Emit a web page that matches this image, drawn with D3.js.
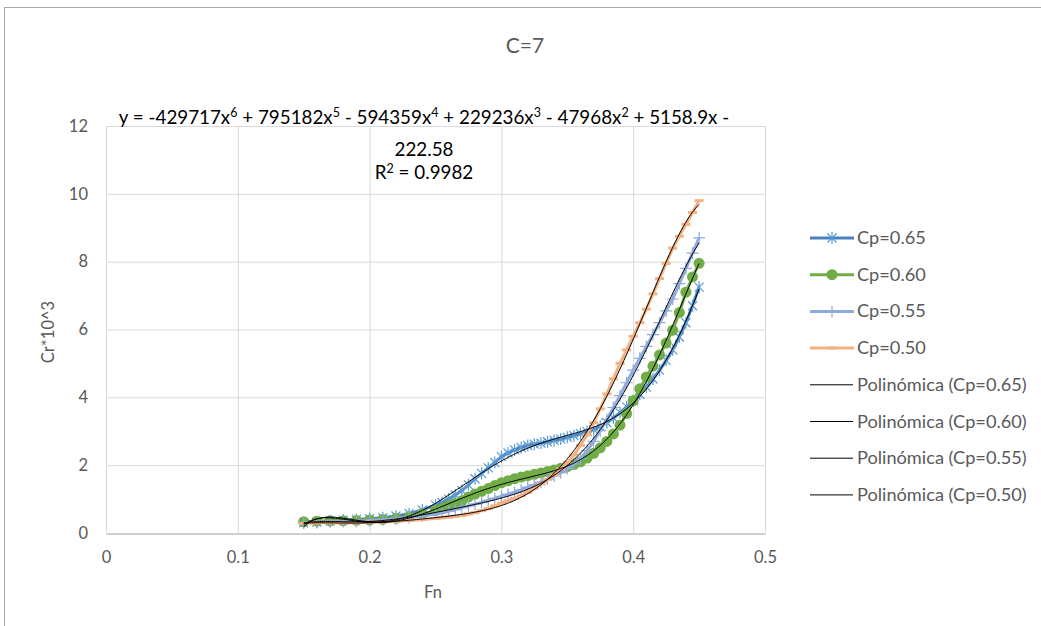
<!DOCTYPE html>
<html>
<head>
<meta charset="utf-8">
<script src="https://cdn.jsdelivr.net/npm/d3@7"></script>
<style>
  body { margin: 0; background: #fff; }
  text { font-family: Lato, "Open Sans", sans-serif; fill: #595959; }
</style>
</head>
<body>
<div id="chart"></div>
<script>
const fn = [0.15, 0.16, 0.17, 0.18, 0.19, 0.20, 0.21, 0.22, 0.23, 0.24, 0.25,
  0.255, 0.26, 0.265, 0.27, 0.275, 0.28, 0.285, 0.29, 0.295, 0.30,
  0.305, 0.31, 0.315, 0.32, 0.325, 0.33, 0.335, 0.34, 0.345, 0.35,
  0.355, 0.36, 0.365, 0.37, 0.375, 0.38, 0.385, 0.39, 0.395, 0.40,
  0.405, 0.41, 0.415, 0.42, 0.425, 0.43, 0.435, 0.44, 0.445, 0.45];

const cp065 = [0.30, 0.32, 0.35, 0.38, 0.40, 0.42, 0.45, 0.50, 0.57, 0.68, 0.82,
  0.90, 1.00, 1.12, 1.25, 1.42, 1.60, 1.76, 1.92, 2.08, 2.25,
  2.36, 2.45, 2.52, 2.58, 2.62, 2.65, 2.69, 2.73, 2.77, 2.82,
  2.87, 2.93, 2.99, 3.05, 3.14, 3.25, 3.39, 3.55, 3.72, 3.90,
  4.09, 4.30, 4.54, 4.80, 5.09, 5.40, 5.78, 6.20, 6.70, 7.25];

const cp060 = [0.33, 0.35, 0.36, 0.36, 0.37, 0.38, 0.40, 0.43, 0.48, 0.56, 0.66,
  0.72, 0.80, 0.87, 0.95, 1.06, 1.15, 1.23, 1.31, 1.40, 1.48,
  1.54, 1.60, 1.65, 1.69, 1.73, 1.77, 1.81, 1.86, 1.91, 1.96,
  2.02, 2.10, 2.21, 2.35, 2.51, 2.70, 2.92, 3.18, 3.52, 3.90,
  4.25, 4.60, 4.92, 5.25, 5.60, 5.98, 6.50, 7.10, 7.55, 7.95];

const cp055 = [0.30, 0.32, 0.33, 0.34, 0.35, 0.37, 0.39, 0.42, 0.46, 0.50, 0.56,
  0.60, 0.64, 0.69, 0.75, 0.80, 0.85, 0.90, 0.96, 1.02, 1.08,
  1.14, 1.20, 1.27, 1.35, 1.42, 1.50, 1.59, 1.68, 1.78, 1.90,
  2.04, 2.20, 2.43, 2.70, 3.02, 3.35, 3.70, 4.05, 4.43, 4.80,
  5.15, 5.50, 5.85, 6.20, 6.55, 6.90, 7.35, 7.80, 8.25, 8.70];

const cp050 = [0.28, 0.30, 0.30, 0.30, 0.30, 0.32, 0.33, 0.35, 0.37, 0.40, 0.43,
  0.45, 0.47, 0.49, 0.52, 0.56, 0.60, 0.66, 0.72, 0.80, 0.88,
  0.95, 1.02, 1.10, 1.20, 1.32, 1.45, 1.58, 1.72, 1.89, 2.08,
  2.30, 2.58, 2.90, 3.25, 3.66, 4.10, 4.55, 5.00, 5.40, 5.80,
  6.20, 6.60, 7.05, 7.50, 7.95, 8.40, 8.75, 9.10, 9.45, 9.80];

const seriesNames = ["Cp=0.65", "Cp=0.60", "Cp=0.55", "Cp=0.50"];
const xTicks = [0, 0.1, 0.2, 0.3, 0.4, 0.5];
const yTicks = [0, 2, 4, 6, 8, 10, 12];

const width = 1041, height = 626;
const plot = { left: 106, right: 765, top: 126, bottom: 533 };

const svg = d3.select("#chart").append("svg")
  .attr("width", width)
  .attr("height", height);

// chart frame
svg.append("rect")
  .attr("x", 4.5).attr("y", 7.5)
  .attr("width", width + 10).attr("height", height + 10)
  .attr("fill", "#fff")
  .attr("stroke", "#a6a6a6");

const x = d3.scaleLinear().domain([0, 0.5]).range([plot.left, plot.right]);
const y = d3.scaleLinear().domain([0, 12]).range([plot.bottom, plot.top]);

// gridlines
svg.append("g").selectAll("line.h")
  .data(yTicks.slice(1))
  .enter().append("line")
  .attr("x1", plot.left).attr("x2", plot.right)
  .attr("y1", d => y(d) + 0.5).attr("y2", d => y(d) + 0.5)
  .attr("stroke", "#d9d9d9");

svg.append("g").selectAll("line.v")
  .data(xTicks)
  .enter().append("line")
  .attr("y1", plot.top).attr("y2", plot.bottom)
  .attr("x1", d => x(d) + 0.5).attr("x2", d => x(d) + 0.5)
  .attr("stroke", "#d9d9d9");

// x axis
const xAxis = svg.append("g")
  .attr("transform", `translate(0,${plot.bottom + 0.5})`)
  .call(d3.axisBottom(x).tickValues(xTicks).tickSize(0).tickPadding(18).tickFormat(d3.format("")));
xAxis.select(".domain").attr("stroke", "#bfbfbf").attr("stroke-width", 1.5);
xAxis.selectAll("text").style("font-size", "16.5px").attr("fill", "#595959").style("font-family", "Lato");

// y axis
const yAxis = svg.append("g")
  .attr("transform", `translate(${plot.left},0)`)
  .call(d3.axisLeft(y).tickValues(yTicks).tickSize(0).tickPadding(18));
yAxis.select(".domain").remove();
yAxis.selectAll("text").style("font-size", "16.5px").attr("fill", "#595959").style("font-family", "Lato");

// titles
svg.append("text")
  .attr("x", 525).attr("y", 53)
  .attr("text-anchor", "middle")
  .style("font-size", "21px")
  .text("C=7");

svg.append("text")
  .attr("x", 433).attr("y", 598)
  .attr("text-anchor", "middle")
  .style("font-size", "16.5px")
  .text("Fn");

svg.append("text")
  .attr("transform", "translate(54,332) rotate(-90)")
  .attr("text-anchor", "middle")
  .style("font-size", "16.5px")
  .text("Cr*10^3");

// series styles
const styles = [
  { line: "#4a82c0", marker: "#5b9bd5", shape: "star" },
  { line: "#70ad47", marker: "#70ad47", shape: "circle" },
  { line: "#8faadc", marker: "#8faadc", shape: "plus" },
  { line: "#f4b183", marker: "#f4b183", shape: "dash" }
];
const values = [cp065, cp060, cp055, cp050];

function markerPath(shape) {
  if (shape === "star") return "M-4.5,-4.5L4.5,4.5M-4.5,4.5L4.5,-4.5M0,-6V6";
  if (shape === "plus") return "M-6,0H6M0,-6V6";
  return null;
}

function drawMarker(g, shape, st) {
  if (shape === "circle") {
    g.append("circle").attr("r", 5.5).attr("fill", st.marker);
  } else if (shape === "dash") {
    g.append("rect").attr("x", -4.5).attr("y", -1.5).attr("width", 9).attr("height", 3).attr("fill", st.marker);
  } else {
    g.append("path").attr("d", markerPath(shape)).attr("stroke", st.marker).attr("stroke-width", 1.2).attr("fill", "none");
  }
}

const line = d3.line().x(d => x(d[0])).y(d => y(d[1]));

values.forEach((vals, i) => {
  const pts = fn.map((f, j) => [f, vals[j]]);
  const st = styles[i];
  const g = svg.append("g");
  g.append("path")
    .datum(pts)
    .attr("d", line)
    .attr("fill", "none")
    .attr("stroke", st.line)
    .attr("stroke-width", 3);
  g.selectAll("g.m")
    .data(pts)
    .enter().append("g")
    .attr("transform", d => `translate(${x(d[0])},${y(d[1])})`)
    .each(function () { drawMarker(d3.select(this), st.shape, st); });
});

// 6th order polynomial trendlines (least squares)
function polyfit(xs, ys, deg) {
  const m = d3.mean(xs), s = (d3.max(xs) - d3.min(xs)) / 2;
  const n = deg + 1;
  const A = Array.from({ length: n }, () => new Array(n + 1).fill(0));
  xs.forEach((xv, k) => {
    const t = (xv - m) / s;
    const p = [];
    for (let i = 0; i < n; i++) p.push(Math.pow(t, i));
    for (let r = 0; r < n; r++) {
      for (let c = 0; c < n; c++) A[r][c] += p[r] * p[c];
      A[r][n] += p[r] * ys[k];
    }
  });
  for (let c = 0; c < n; c++) {
    let piv = c;
    for (let r = c + 1; r < n; r++) if (Math.abs(A[r][c]) > Math.abs(A[piv][c])) piv = r;
    [A[c], A[piv]] = [A[piv], A[c]];
    for (let r = 0; r < n; r++) {
      if (r === c) continue;
      const f = A[r][c] / A[c][c];
      for (let k = c; k <= n; k++) A[r][k] -= f * A[c][k];
    }
  }
  const coef = A.map((row, i) => row[n] / row[i]);
  return xv => {
    const t = (xv - m) / s;
    return coef.reduce((acc, cf, i) => acc + cf * Math.pow(t, i), 0);
  };
}

values.forEach(vals => {
  const f = polyfit(fn, vals, 6);
  const xs = d3.range(0, 201).map(k => fn[0] + (fn[fn.length - 1] - fn[0]) * k / 200);
  svg.append("path")
    .datum(xs.map(v => [v, f(v)]))
    .attr("d", line)
    .attr("fill", "none")
    .attr("stroke", "#000")
    .attr("stroke-width", 1);
});

// trendline equation label
const eqParts = [
  ["y = -429717x", "6"], [" + 795182x", "5"], [" - 594359x", "4"],
  [" + 229236x", "3"], [" - 47968x", "2"], [" + 5158.9x -", null]
];
const eq = svg.append("text")
  .attr("x", 424).attr("y", 124)
  .attr("text-anchor", "middle")
  .style("font-size", "18.8px")
  .style("fill", "#000");
let shift = 0;
eqParts.forEach(([base, sup]) => {
  eq.append("tspan").style("fill", "#000").attr("dy", shift).text(base);
  shift = 0;
  if (sup) {
    eq.append("tspan").style("fill", "#000").attr("dy", -7).style("font-size", "12.5px").text(sup);
    shift = 7;
  }
});
svg.append("text")
  .attr("x", 424).attr("y", 156)
  .attr("text-anchor", "middle")
  .style("font-size", "18.8px")
  .style("fill", "#000")
  .text("222.58");
const r2 = svg.append("text")
  .attr("x", 424).attr("y", 179)
  .attr("text-anchor", "middle")
  .style("font-size", "18.8px")
  .style("fill", "#000");
r2.append("tspan").style("fill", "#000").text("R");
r2.append("tspan").style("fill", "#000").attr("dy", -6).style("font-size", "12.5px").text("2");
r2.append("tspan").style("fill", "#000").attr("dy", 6).text(" = 0.9982");

// legend
const legendRows = seriesNames.map((name, i) => ({ name, st: styles[i], poly: false }))
  .concat(seriesNames.map(name => ({ name: `Polinómica (${name})`, poly: true })));
const legend = svg.append("g").selectAll("g")
  .data(legendRows)
  .enter().append("g")
  .attr("transform", (d, i) => `translate(810,${238 + i * 36.7})`);
legend.append("line")
  .attr("x1", 0).attr("x2", d => d.poly ? 43 : 44)
  .attr("stroke", d => d.poly ? "#000" : d.st.line)
  .attr("stroke-width", d => d.poly ? 1 : 3);
legend.filter(d => !d.poly).append("g")
  .attr("transform", "translate(22,0)")
  .each(function (d) { drawMarker(d3.select(this), d.st.shape, d.st); });
legend.append("text")
  .attr("x", 47).attr("y", 6)
  .style("font-size", "18.2px")
  .text(d => d.name);
</script>
</body>
</html>
